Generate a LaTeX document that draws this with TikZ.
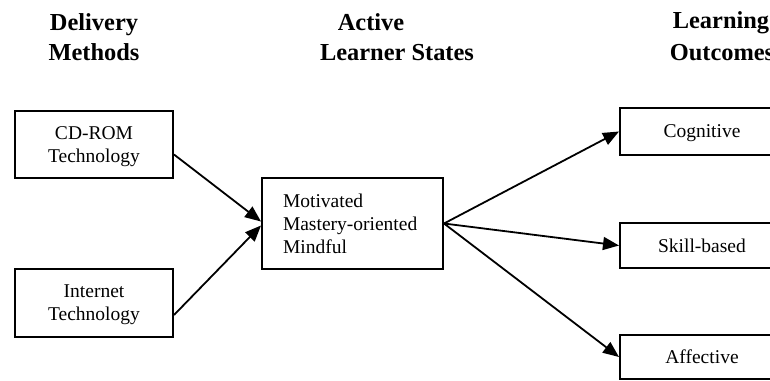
\documentclass[tikz,border=0pt]{standalone}
\usepackage{fontspec}
\setmainfont{Liberation Serif}
\usetikzlibrary{positioning, arrows.meta}

\begin{document}
\begin{tikzpicture}[x=0.5pt, y=-0.5pt, >={Triangle[length=8pt, width=6.5pt]}, line width=0.9pt,
  box/.style={draw, line width=1pt, align=center, inner sep=0pt,
    minimum width=79pt, font=\fontsize{9.75}{11.5}\selectfont},
  inbox/.style={box, text depth=-1.5pt},
  outbox/.style={box, text depth=-0.5pt, minimum width=82pt},
  head/.style={anchor=base, inner sep=0pt, font=\fontsize{12.2}{14}\selectfont\bfseries}]
  \useasboundingbox (0,0) rectangle (770,380);
  \clip (0,0) rectangle (770,380);

  % column headings
  \node[head] (dlv) at (94,31) {Delivery};
  \node[head] (mth) at (94,60) {Methods};
  \node[head] (act) at (371,31) {Active};
  \node[head] (lst) at (397,60) {Learner States};
  \node[head] (lrn) at (721,28) {Learning};
  \node[head] (out) at (722,60) {Outcomes};

  % delivery methods
  \node[inbox, minimum height=33.5pt] (cdrom) at (94,144.5) {CD-ROM\\Technology};
  \node[inbox, minimum height=34pt] (inet) at (94,303) {Internet\\Technology};

  % learner states
  \node[box, align=left, text width=69.5pt, inner xsep=10.5pt, minimum height=45.5pt]
    (state) at (352.5,223.5) {Motivated\\Mastery-oriented\\Mindful};

  % outcomes
  \node[outbox, minimum height=23.5pt] (cog) at (702,131.5) {Cognitive};
  \node[outbox, minimum height=22.5pt] (skill) at (702,245.5) {Skill-based};
  \node[outbox, minimum height=22pt] (aff) at (702,357) {Affective};

  \draw[->] ([yshift=-5pt]cdrom.east) -- ([yshift=1pt]state.west);
  \draw[->] ([yshift=-6pt]inet.east) -- ([yshift=-1pt]state.west);
  \draw[->] (state.east) -- (cog.west);
  \draw[->] (state.east) -- (skill.west);
  \draw[->] (state.east) -- (aff.west);
\end{tikzpicture}
\end{document}
